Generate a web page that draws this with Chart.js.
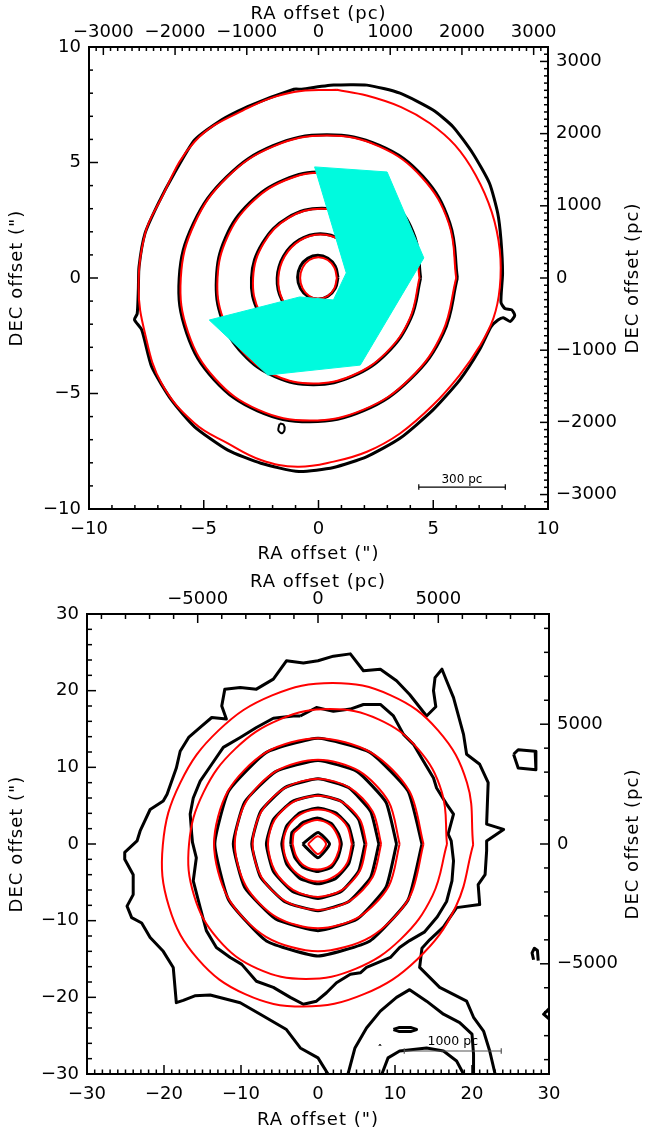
<!DOCTYPE html>
<html lang="en">
<head>
    <meta charset="UTF-8">
    <title>Surface brightness contours</title>
    <script src="https://cdn.jsdelivr.net/npm/chart.js"></script>
    <style>
        body { margin: 0; background: #fff; }
        canvas { display: block; }
    </style>
</head>
<body>
    <canvas id="topChart" width="645" height="570"></canvas>
    <canvas id="bottomChart" width="645" height="565"></canvas>
    <script>
        // pc per arcsec for the secondary axes
        const PC_PER_ARCSEC = 320;

        // ---------- top panel (arcsec) ----------
        const topTicksX = [-10, -5, 0, 5, 10];
        const topTicksPc = [-3000, -2000, -1000, 0, 1000, 2000, 3000];

        const topRed1 = [[0.8,0],[0.69,0.45],[0.4,0.78],[0,0.9],[-0.4,0.78],[-0.69,0.45],[-0.8,0],[-0.69,-0.45],[-0.4,-0.78],[0,-0.9],[0.4,-0.78],[0.69,-0.45]];
        const topRed2 = [[1.75,0],[1.57,0.94],[0.96,1.63],[0.09,1.88],[-0.8,1.63],[-1.47,0.94],[-1.75,0],[-1.57,-0.94],[-0.96,-1.63],[-0.09,-1.88],[0.8,-1.63],[1.47,-0.94]];
        const topRed3 = [[2.85,0],[2.55,1.5],[1.56,2.6],[0.15,3.0],[-1.3,2.6],[-2.39,1.5],[-2.85,0],[-2.55,-1.5],[-1.56,-2.6],[-0.15,-3.0],[1.3,-2.6],[2.39,-1.5]];
        const topRed4 = [[4.4,0],[4.16,1.75],[3.27,3.23],[1.89,4.22],[0.23,4.57],[-1.47,4.22],[-2.95,3.23],[-3.98,1.75],[-4.4,0],[-4.16,-1.75],[-3.27,-3.23],[-1.89,-4.22],[-0.23,-4.57],[1.47,-4.22],[2.95,-3.23],[3.98,-1.75]];
        const topRed5 = [[6.0,0],[5.68,2.36],[4.5,4.36],[2.64,5.7],[0.37,6.17],[-1.96,5.7],[-3.98,4.36],[-5.4,2.36],[-6.0,0],[-5.68,-2.36],[-4.5,-4.36],[-2.64,-5.7],[-0.37,-6.17],[1.96,-5.7],[3.98,-4.36],[5.4,-2.36]];
        const topRed6 = [[0.8,8.15],[2.1,7.9],[3.6,7.4],[4.85,6.7],[5.95,5.75],[6.85,4.45],[7.55,2.85],[7.9,1.2],[7.9,-0.4],[7.62,-1.75],[7.01,-2.97],[6.15,-4.2],[4.99,-5.5],[3.55,-6.73],[2.11,-7.52],[0.66,-7.95],[-0.92,-8.17],[-2.51,-7.88],[-3.95,-7.16],[-5.4,-6.29],[-6.84,-4.56],[-7.56,-2.4],[-7.84,-0.4],[-7.56,1.9],[-6.98,3.2],[-5.4,5.9],[-3.09,7.35],[-1.07,8.05]];

        const topBlack1 = [[0.85,0.03],[0.73,0.51],[0.41,0.85],[-0.03,0.98],[-0.47,0.85],[-0.79,0.51],[-0.91,0.03],[-0.79,-0.45],[-0.47,-0.79],[-0.03,-0.92],[0.41,-0.79],[0.73,-0.45]];
        const topBlack2 = [[1.8,0],[1.6,0.95],[0.98,1.65],[0.08,1.92],[-0.84,1.65],[-1.52,0.95],[-1.8,0],[-1.6,-0.95],[-0.98,-1.65],[-0.08,-1.92],[0.84,-1.65],[1.52,-0.95]];
        const topBlack3 = [[2.9,0],[2.6,1.51],[1.6,2.62],[0.15,3.02],[-1.33,2.62],[-2.44,1.51],[-2.92,0],[-2.6,-1.51],[-1.6,-2.62],[-0.15,-3.02],[1.33,-2.62],[2.44,-1.51]];
        const topBlack4 = [[4.45,0],[4.2,1.77],[3.3,3.25],[1.9,4.25],[0.2,4.6],[-1.5,4.25],[-3.0,3.25],[-4.05,1.75],[-4.45,-0.05],[-4.2,-1.8],[-3.3,-3.28],[-1.9,-4.27],[-0.2,-4.62],[1.5,-4.25],[2.98,-3.25],[4.02,-1.75]];
        const topBlack5 = [[6.05,0],[5.72,2.38],[4.55,4.4],[2.66,5.74],[0.35,6.2],[-1.98,5.73],[-4.0,4.38],[-5.45,2.36],[-6.07,0],[-5.74,-2.4],[-4.55,-4.4],[-2.66,-5.75],[-0.37,-6.22],[1.97,-5.74],[4.0,-4.38],[5.45,-2.38]];
        const topBlackOuter = [[-0.78,8.17],[0.66,8.35],[2.11,8.35],[3.55,8.0],[4.99,7.27],[5.86,6.55],[6.72,5.4],[7.45,4.1],[7.81,2.8],[7.95,1.65],[8.02,0.2],[7.95,-1.05],[8.12,-1.32],[8.42,-1.38],[8.55,-1.62],[8.35,-1.88],[8.05,-1.72],[7.82,-1.82],[7.52,-2.11],[7.01,-3.12],[6.15,-4.42],[4.99,-5.71],[3.55,-6.94],[2.11,-7.73],[0.66,-8.2],[-0.85,-8.38],[-2.51,-8.02],[-3.95,-7.45],[-5.4,-6.44],[-6.41,-5.28],[-7.27,-3.84],[-7.7,-2.25],[-8.02,-1.8],[-7.9,-1.55],[-7.85,-0.5],[-7.82,0.49],[-7.56,1.93],[-6.98,3.23],[-6.3,4.5],[-5.4,5.97],[-4.3,6.8],[-3.09,7.42],[-1.07,8.17],[-0.78,8.17]];
        const topBlackBlob = [[-1.68,-6.3],[-1.52,-6.35],[-1.48,-6.58],[-1.6,-6.72],[-1.75,-6.6],[-1.72,-6.4],[-1.68,-6.3]];
        const topCyan = [[-0.17,4.81],[2.99,4.59],[4.59,0.87],[1.82,-3.77],[-2.21,-4.2],[-4.76,-1.82],[-0.82,-0.82],[0.65,-0.95],[1.21,0.22]];
        const topBar = [[4.37,-9.05],[8.14,-9.05]];

        // ---------- bottom panel (arcsec) ----------
        const botTicksX = [-30, -20, -10, 0, 10, 20, 30];
        const botTicksPc = [-5000, 0, 5000];

        const botRed1 = [[-1.3,0],[0,1.0],[1.05,0],[0,-1.3]];
        const botRed2 = [[-3.3,0],[-3.14,1.41],[-2.49,2.01],[-1.81,2.61],[-0.08,3.14],[1.61,2.49],[2.49,1.21],[2.82,0],[2.42,-1.61],[1.61,-2.82],[-0.08,-3.34],[-1.81,-2.82],[-2.82,-1.61]];
        const botRed3 = [[4.4,0],[3.81,2.25],[2.2,3.9],[0,4.5],[-2.25,3.9],[-3.9,2.25],[-4.5,0],[-3.9,-2.45],[-2.25,-4.2],[0,-4.9],[2.2,-4.2],[3.81,-2.45]];
        const botRed4 = [[6.3,0],[5.46,3.15],[3.15,5.46],[0,6.3],[-3.25,5.46],[-5.63,3.15],[-6.5,0],[-5.63,-3.45],[-3.25,-5.98],[0,-6.9],[3.15,-5.98],[5.46,-3.45]];
        const botRed5 = [[8.2,0],[7.1,4.25],[4.1,7.36],[0,8.5],[-4.25,7.36],[-7.36,4.25],[-8.5,0],[-7.36,-4.3],[-4.25,-7.45],[0,-8.6],[4.1,-7.45],[7.1,-4.3]];
        const botRed6 = [[10.6,0],[9.18,5.5],[5.3,9.53],[0,11.0],[-5.4,9.53],[-9.35,5.5],[-10.8,0],[-9.35,-5.5],[-5.4,-9.53],[0,-11.0],[5.3,-9.53],[9.18,-5.5]];
        const botRed7 = [[13.7,0],[11.86,6.9],[6.85,11.95],[0,13.8],[-6.75,11.95],[-11.69,6.9],[-13.5,0],[-11.69,-7.0],[-6.75,-12.1],[0,-14.0],[6.85,-12.1],[11.86,-7.0]];
        const botRedA = [[16.75,0],[16.09,6.74],[12.96,12.44],[7.87,16.26],[1.58,17.6],[-4.95,16.26],[-10.72,12.44],[-14.87,6.74],[-16.75,0],[-16.09,-6.74],[-12.96,-12.44],[-7.87,-16.26],[-1.58,-17.6],[4.95,-16.26],[10.72,-12.44],[14.87,-6.74]];
        const botRedB = [[20.15,-0.1],[19.35,7.98],[15.59,14.82],[9.46,19.39],[1.9,21.0],[-5.96,19.39],[-12.91,14.82],[-17.89,7.98],[-20.15,-0.1],[-19.35,-8.18],[-15.59,-15.02],[-9.46,-19.59],[-1.9,-21.2],[5.96,-19.59],[12.91,-15.02],[17.89,-8.18]];

        const botBlack1 = [[-2.0,0],[0,1.5],[1.5,0],[0,-1.8]];
        const botBlack2 = [[-3.55,0],[-3.38,1.52],[-2.68,2.16],[-1.95,2.81],[-0.09,3.38],[1.73,2.68],[2.68,1.3],[3.03,0],[2.6,-1.73],[1.73,-3.03],[-0.09,-3.59],[-1.95,-3.03],[-3.03,-1.73]];
        const botBlack3 = [[4.6,0],[3.98,2.35],[2.3,4.07],[0,4.7],[-2.35,4.07],[-4.07,2.35],[-4.7,0],[-4.07,-2.6],[-2.35,-4.5],[0,-5.2],[2.3,-4.5],[3.98,-2.6]];
        const botBlack4 = [[6.1,0],[5.28,3.2],[3.05,5.54],[0,6.4],[-3.35,5.54],[-5.8,3.2],[-6.7,0],[-5.8,-3.55],[-3.35,-6.15],[0,-7.1],[3.05,-6.15],[5.28,-3.55]];
        const botBlack5 = [[7.9,0],[6.84,4.25],[3.95,7.36],[0,8.5],[-4.3,7.36],[-7.45,4.25],[-8.6,0],[-7.45,-4.35],[-4.3,-7.53],[0,-8.7],[3.95,-7.53],[6.84,-4.35]];
        const botBlack6 = [[10.2,0],[8.83,5.45],[5.1,9.44],[0,10.9],[-5.5,9.44],[-9.53,5.45],[-11.0,0],[-9.53,-5.65],[-5.5,-9.79],[0,-11.3],[5.1,-9.79],[8.83,-5.65]];
        const botBlack7 = [[13.5,0],[11.69,6.9],[6.75,11.95],[0,13.8],[-6.7,11.95],[-11.6,6.9],[-13.4,0],[-11.6,-7.3],[-6.7,-12.64],[0,-14.6],[6.75,-12.64],[11.69,-7.3]];
        const botBlack8 = [[-2.3,16.7],[-0.2,17.8],[2,17.3],[4.2,17.6],[5.9,18.2],[8.1,18.2],[9.8,16.7],[11.1,14.3],[12.4,13],[13.7,10.8],[15,8.6],[15.4,7.3],[16.7,5.2],[17.6,3.9],[16.9,1.3],[17.3,0.4],[17.6,-2.2],[17.4,-4.8],[16.7,-7.5],[15.5,-9.5],[13.8,-11.5],[11.9,-12.6],[10.6,-13.5],[9.4,-14.8],[6.3,-16.1],[5.5,-16.8],[4.2,-17],[2.4,-18.1],[1.1,-19.4],[-0.2,-20.5],[-1.9,-20.9],[-3.6,-20],[-5.8,-18.7],[-8,-17.9],[-9.9,-15.7],[-11.4,-14.8],[-13.2,-13.5],[-14.5,-11.3],[-15.3,-8.3],[-16.2,-4.8],[-15.8,-1.8],[-16.3,0.2],[-16.4,1.3],[-16.6,3.9],[-16.2,6.0],[-15.3,8.2],[-13.8,10.4],[-12.3,12.6],[-10.1,13.9],[-8,15.2],[-5.8,16.4],[-3.2,16.7],[-2.3,16.7]];
        const botBlackOuter = [[1.3,-30],[0,-27.9],[-2.3,-26.6],[-4.1,-24.2],[-7.5,-22.2],[-10.1,-20.7],[-14,-19.7],[-16,-19.8],[-17.5,-20.4],[-18.4,-20.7],[-18.8,-16.1],[-20.1,-14],[-21.8,-12.2],[-22.9,-10.3],[-24.2,-9.6],[-24.8,-8.1],[-24,-6.6],[-24,-4],[-25.1,-2],[-25.1,-1.1],[-23.5,0.4],[-23.1,1.7],[-21.8,4.5],[-20.1,5.6],[-19.6,6.5],[-18.4,9.9],[-17.9,12.1],[-16.8,13.9],[-15.3,15.2],[-13.8,16.5],[-11.9,16.3],[-12.5,18.0],[-12.1,20.2],[-10.1,20.4],[-8,20.2],[-5.8,21.5],[-4.1,23.9],[-1.9,23.6],[0,23.9],[2,24.5],[4.2,24.8],[5.9,22.6],[8.1,22.8],[10.2,21.3],[11.9,19.5],[14.1,16.7],[15.3,17.9],[15,20],[15.2,21.7],[16.1,22.8],[16.7,21.3],[17.6,19.1],[18.9,14.3],[19.3,11.7],[21,10.4],[22.1,8.0],[21.9,2.6],[24.1,1.9],[21.9,0.4],[21.9,-0.9],[21.7,-4],[20.8,-5.3],[21,-7.9],[18,-8.3],[16.3,-10.8],[14.5,-12.5],[13.5,-13.6],[13.2,-16.1],[15.8,-18.7],[19.3,-20.5],[20.2,-22.6],[21.5,-24.4],[22.3,-27],[23,-30]];
        const botBlackArch = [[3.9,-30],[4.8,-26.6],[6.3,-24.0],[8.1,-21.8],[10.2,-20.0],[11.9,-19.0],[14.1,-20.5],[16.3,-22.2],[18.4,-23.3],[20,-24.8],[20.2,-27.4],[20.2,-30]];
        const botBlackSmallArch = [[8.3,-30],[9.1,-27.9],[10.6,-27.0],[14.1,-26.6],[16.3,-27],[18,-28.3],[18.9,-30]];
        const botBlackIsland = [[9.8,-24.2],[10.5,-23.95],[12.1,-23.95],[12.8,-24.2],[12.1,-24.45],[10.5,-24.45],[9.8,-24.2]];
        const botBlackPentagon = [[25.4,11.7],[26,12.3],[28.2,12.1],[28.3,9.7],[26,9.9],[25.4,11.7]];
        const botBlackHook = [[28.0,-15.1],[27.8,-14.2],[28.1,-13.6],[28.5,-13.9],[28.6,-15.2]];
        const botBlackNotch = [[30,-21.5],[29.3,-22.2],[30,-22.8]];
        const botBlackCaret = [[7.9,-26.35],[8.05,-26.1],[8.2,-26.35]];
        const botBar = [[11.2,-27.0],[23.8,-27.0]];

        const FONT = '"DejaVu Sans", sans-serif';

        function pts(arr, close) {
            const out = arr.map(p => ({x: p[0], y: p[1]}));
            if (close) out.push({x: arr[0][0], y: arr[0][1]});
            return out;
        }

        function line(arr, color, width, tension, close, order) {
            return {
                data: pts(arr, close),
                borderColor: color,
                borderWidth: width,
                tension: tension,
                fill: false,
                pointRadius: 0,
                borderJoinStyle: 'round',
                order: order
            };
        }

        function barCaps(bar, h) {
            return [
                [[bar[0][0], bar[0][1] - h], [bar[0][0], bar[0][1] + h]],
                [[bar[1][0], bar[1][1] - h], [bar[1][0], bar[1][1] + h]]
            ];
        }

        function fmt(v) {
            return v < 0 ? '\u2212' + Math.abs(v) : String(v);
        }

        // inward ticks, axis titles and little labels
        function decor(spec) {
            return {
                id: 'decor',
                afterDraw(chart) {
                    const ctx = chart.ctx, a = chart.chartArea;
                    ctx.save();
                    ctx.strokeStyle = '#000';
                    ctx.lineWidth = 1.5;
                    for (const id in spec.ticks) {
                        const s = chart.scales[id], t = spec.ticks[id];
                        const n0 = Math.ceil(s.min / t.minor - 1e-9);
                        const n1 = Math.floor(s.max / t.minor + 1e-9);
                        for (let n = n0; n <= n1; n++) {
                            const v = n * t.minor;
                            const r = v / t.major;
                            const len = Math.abs(r - Math.round(r)) < 1e-6 ? t.majorLen : t.minorLen;
                            const p = s.getPixelForValue(v);
                            ctx.beginPath();
                            if (s.position === 'bottom') { ctx.moveTo(p, a.bottom); ctx.lineTo(p, a.bottom - len); }
                            if (s.position === 'top') { ctx.moveTo(p, a.top); ctx.lineTo(p, a.top + len); }
                            if (s.position === 'left') { ctx.moveTo(a.left, p); ctx.lineTo(a.left + len, p); }
                            if (s.position === 'right') { ctx.moveTo(a.right, p); ctx.lineTo(a.right - len, p); }
                            ctx.stroke();
                        }
                    }

                    ctx.fillStyle = '#000';
                    ctx.font = '18px ' + FONT;
                    ctx.textAlign = 'center';
                    ctx.textBaseline = 'middle';
                    ctx.letterSpacing = '1px';
                    const cx = (a.left + a.right) / 2, cy = (a.top + a.bottom) / 2;
                    ctx.fillText('RA offset (pc)', cx, spec.topTitleY);
                    ctx.fillText('RA offset (")', cx, spec.bottomTitleY);
                    ctx.save();
                    ctx.translate(spec.leftTitleX, cy);
                    ctx.rotate(-Math.PI / 2);
                    ctx.fillText('DEC offset (")', 0, 0);
                    ctx.restore();
                    ctx.save();
                    ctx.translate(spec.rightTitleX, cy);
                    ctx.rotate(-Math.PI / 2);
                    ctx.fillText('DEC offset (pc)', 0, 0);
                    ctx.restore();

                    ctx.letterSpacing = '0px';
                    for (const lab of spec.labels) {
                        ctx.font = lab.size + 'px ' + FONT;
                        ctx.fillStyle = lab.color;
                        ctx.fillText(lab.text, chart.scales.x.getPixelForValue(lab.x), chart.scales.y.getPixelForValue(lab.y));
                    }
                    ctx.restore();
                }
            };
        }

        function axes(range, ticksArc, ticksPc, box) {
            const pcRange = range * PC_PER_ARCSEC;
            const tickFont = {family: FONT, size: 18};
            const common = (pad, list) => ({
                type: 'linear',
                grid: {display: true, drawOnChartArea: false, drawTicks: false},
                border: {display: true, color: '#000', width: 2},
                ticks: {font: tickFont, color: '#000', padding: pad, autoSkip: false,
                        maxRotation: 0, minRotation: 0, callback: fmt},
                afterBuildTicks: s => { s.ticks = list.map(v => ({value: v})); }
            });
            const x = common(10, ticksArc), y = common(8, ticksArc);
            const x2 = common(4, ticksPc), y2 = common(8, ticksPc);
            Object.assign(x, {position: 'bottom', min: -range, max: range, afterFit: s => { s.height = box.bottom; }});
            Object.assign(y, {position: 'left', min: -range, max: range, afterFit: s => { s.width = box.left; }});
            Object.assign(x2, {position: 'top', axis: 'x', min: -pcRange, max: pcRange, afterFit: s => { s.height = box.top; }});
            Object.assign(y2, {position: 'right', axis: 'y', min: -pcRange, max: pcRange, afterFit: s => { s.width = box.right; }});
            return {x, y, x2, y2};
        }

        function build(id, datasets, scales, spec) {
            return new Chart(document.getElementById(id), {
                type: 'line',
                data: {datasets: datasets},
                options: {
                    responsive: false,
                    animation: false,
                    layout: {padding: 0},
                    plugins: {legend: {display: false}, tooltip: {enabled: false}},
                    elements: {point: {radius: 0}},
                    scales: scales
                },
                plugins: [decor(spec)]
            });
        }

        // ---- top chart ----
        const topSets = [];
        [topBlack1, topBlack2, topBlack3, topBlack4, topBlack5].forEach(r => topSets.push(line(r, '#000', 3, 0.4, true, 3)));
        topSets.push(line(topBlackOuter, '#000', 3, 0.2, false, 3));
        topSets.push(line(topBlackBlob, '#000', 2, 0.3, false, 3));
        [topRed1, topRed2, topRed3, topRed4, topRed5, topRed6].forEach(r => topSets.push(line(r, '#ff0000', 2, 0.4, true, 2)));
        topSets.push({
            data: pts(topCyan, true), borderColor: 'rgb(0,250,222)', backgroundColor: 'rgb(0,250,222)',
            borderWidth: 1, tension: 0, fill: 'shape', pointRadius: 0, order: 1
        });
        topSets.push(line(topBar, '#000', 1.2, 0, false, 0));
        barCaps(topBar, 0.12).forEach(c => topSets.push(line(c, '#000', 1.2, 0, false, 0)));

        build('topChart', topSets, axes(10, topTicksX, topTicksPc, {left: 89, right: 97, top: 47, bottom: 61}), {
            ticks: {
                x: {major: 5, minor: 1, majorLen: 9, minorLen: 4},
                y: {major: 5, minor: 1, majorLen: 9, minorLen: 4},
                x2: {major: 1000, minor: 100, majorLen: 8, minorLen: 4},
                y2: {major: 1000, minor: 100, majorLen: 8, minorLen: 4}
            },
            topTitleY: 14, bottomTitleY: 554, leftTitleX: 17, rightTitleX: 633,
            labels: [{x: 6.25, y: -8.72, text: '300 pc', size: 12, color: '#000'}]
        });

        // ---- bottom chart ----
        const botSets = [];
        [botBlack1, botBlack2, botBlack3, botBlack4, botBlack5, botBlack6, botBlack7].forEach(r => botSets.push(line(r, '#000', 3, 0.15, true, 3)));
        botSets.push(line(botBlack8, '#000', 3, 0, false, 3));
        [botBlackOuter, botBlackArch, botBlackSmallArch, botBlackIsland, botBlackPentagon, botBlackHook, botBlackNotch]
            .forEach(r => botSets.push(line(r, '#000', 3, 0, false, 3)));
        botSets.push(line(botBlackCaret, '#000', 1, 0, false, 3));
        [botRed1, botRed2, botRed3, botRed4, botRed5, botRed6, botRed7].forEach(r => botSets.push(line(r, '#ff0000', 2, 0.3, true, 2)));
        [botRedA, botRedB].forEach(r => botSets.push(line(r, '#ff0000', 2, 0.4, true, 2)));
        botSets.push(line(botBar, '#555', 1.2, 0, false, 0));
        barCaps(botBar, 0.35).forEach(c => botSets.push(line(c, '#555', 1.2, 0, false, 0)));

        build('bottomChart', botSets, axes(30, botTicksX, botTicksPc, {left: 87, right: 96, top: 44, bottom: 61}), {
            ticks: {
                x: {major: 10, minor: 1, majorLen: 9, minorLen: 4.5},
                y: {major: 10, minor: 2, majorLen: 9, minorLen: 5},
                x2: {major: 5000, minor: 1000, majorLen: 9, minorLen: 5},
                y2: {major: 5000, minor: 1000, majorLen: 9, minorLen: 5}
            },
            topTitleY: 12, bottomTitleY: 550, leftTitleX: 17, rightTitleX: 633,
            labels: [{x: 17.5, y: -25.8, text: '1000 pc', size: 12.5, color: '#000'}]
        });
    </script>
</body>
</html>
